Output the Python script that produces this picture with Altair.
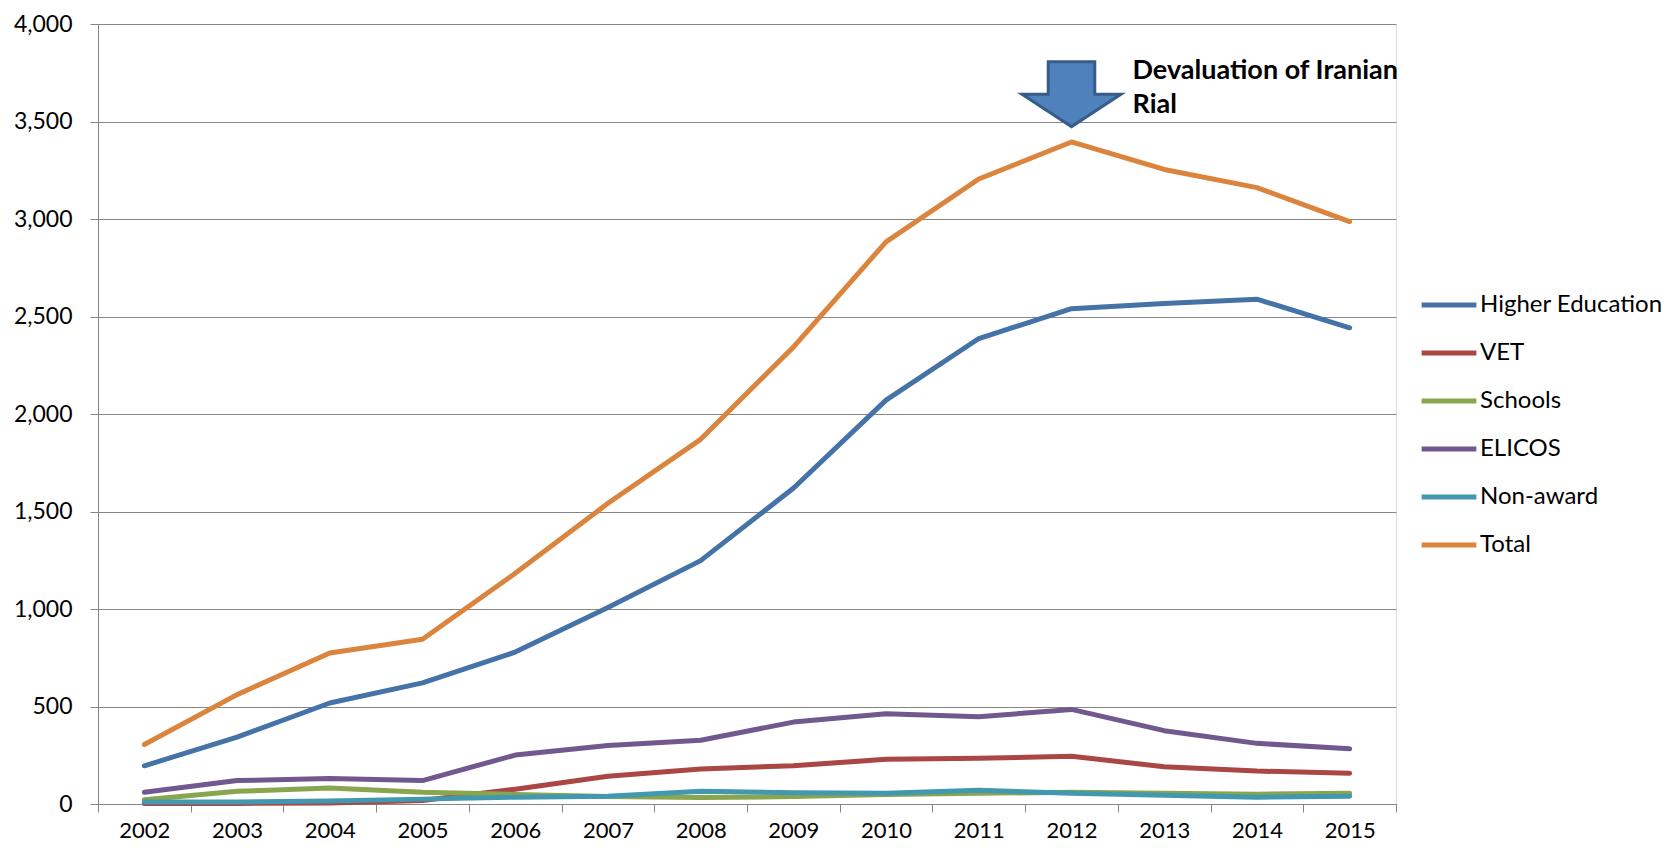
import altair as alt
import pandas as pd

years = ["2002", "2003", "2004", "2005", "2006", "2007", "2008",
         "2009", "2010", "2011", "2012", "2013", "2014", "2015"]

series_names = ["Higher Education", "VET", "Schools", "ELICOS", "Non-award", "Total"]
series_colors = ["#4572A7", "#AA4643", "#89A54E", "#71588F", "#4198AF", "#DB843D"]

higher_education = [196, 343, 518, 621, 779, 1008, 1248, 1619, 2071, 2387, 2540, 2567, 2589, 2442]
vet = [3, 3, 5, 18, 76, 142, 180, 196, 229, 234, 245, 191, 169, 158]
schools = [22, 65, 82, 60, 49, 38, 33, 38, 49, 55, 60, 55, 50, 55]
elicos = [60, 120, 131, 120, 251, 300, 327, 420, 463, 447, 485, 376, 311, 283]
non_award = [10, 10, 15, 25, 35, 40, 65, 58, 55, 70, 55, 45, 35, 40]
total = [305, 561, 774, 845, 1183, 1542, 1870, 2343, 2883, 3205, 3395, 3254, 3161, 2987]

y_ticks = [0, 500, 1000, 1500, 2000, 2500, 3000, 3500, 4000]

series_values = [higher_education, vet, schools, elicos, non_award, total]

rows = []
for name, vals in zip(series_names, series_values):
    for yr, v in zip(years, vals):
        rows.append({"Year": yr, "Series": name, "Value": v})
df = pd.DataFrame(rows)

annot_year = ["2012"]
arrow_value = [3640]
annot_text_value = [3720]
annot_text = [["Devaluation of Iranian", "Rial"]]

arrow_df = pd.DataFrame({"Year": annot_year, "Value": arrow_value})
text_df = pd.DataFrame({"Year": annot_year, "Value": annot_text_value, "Label": annot_text})

x_enc = alt.X("Year:O", title=None, bandPosition=0.5,
              scale=alt.Scale(type="band", domain=years, paddingInner=0, paddingOuter=0),
              axis=alt.Axis(tickBand="extent", grid=False, labelAngle=0,
                            domainColor="#868686", tickColor="#868686", tickSize=8,
                            labelFont="Lato", labelFontSize=22, labelColor="#000000",
                            labelPadding=8))
y_enc = alt.Y("Value:Q", title=None,
              scale=alt.Scale(domain=[0, 4000], nice=False),
              axis=alt.Axis(values=y_ticks, format=",d",
                            grid=True, gridColor="#868686", gridWidth=1,
                            domainColor="#868686", tickColor="#868686", tickSize=8,
                            labelFont="Lato", labelFontSize=23, labelColor="#000000",
                            labelPadding=18))

lines = alt.Chart(df).mark_line(strokeWidth=5, strokeCap="round", strokeJoin="round").encode(
    x=x_enc,
    y=y_enc,
    color=alt.Color("Series:N",
                    scale=alt.Scale(domain=series_names, range=series_colors),
                    sort=series_names,
                    legend=alt.Legend(title=None, orient="none", legendX=1321, legendY=251,
                                      symbolType="stroke", symbolSize=3000,
                                      symbolStrokeWidth=5, labelFont="Lato",
                                      labelFontSize=24, labelColor="#000000",
                                      labelLimit=320, labelOffset=1,
                                      rowPadding=6, padding=0)),
    order=alt.Order("Year:O"),
)

arrow_path = "M -0.47 -0.655 L 0.47 -0.655 L 0.47 0 L 1 0 L 0 0.655 L -1 0 L -0.47 0 Z"
arrow = alt.Chart(arrow_df).mark_point(
    shape=arrow_path, size=9801, filled=True, fill="#4F81BD", fillOpacity=1,
    stroke="#385D8A", strokeWidth=3, strokeOpacity=1
).encode(
    x=alt.X("Year:O", bandPosition=0.5),
    y="Value:Q",
)

text = alt.Chart(text_df).mark_text(
    align="left", baseline="alphabetic", dx=61, font="Lato", fontWeight="bold",
    fontSize=27, lineHeight=34, color="#000000"
).encode(
    x=alt.X("Year:O", bandPosition=0.5),
    y="Value:Q",
    text="Label",
)

chart = alt.layer(lines, arrow, text).properties(
    width=1298, height=780,
    autosize=alt.AutoSizeParams(type="none"),
    padding={"left": 90, "top": 16, "right": 273, "bottom": 40},
).configure_view(stroke=None).configure(background="#ffffff")

chart.save("out.html", embed_options={"renderer": "svg", "actions": False})
